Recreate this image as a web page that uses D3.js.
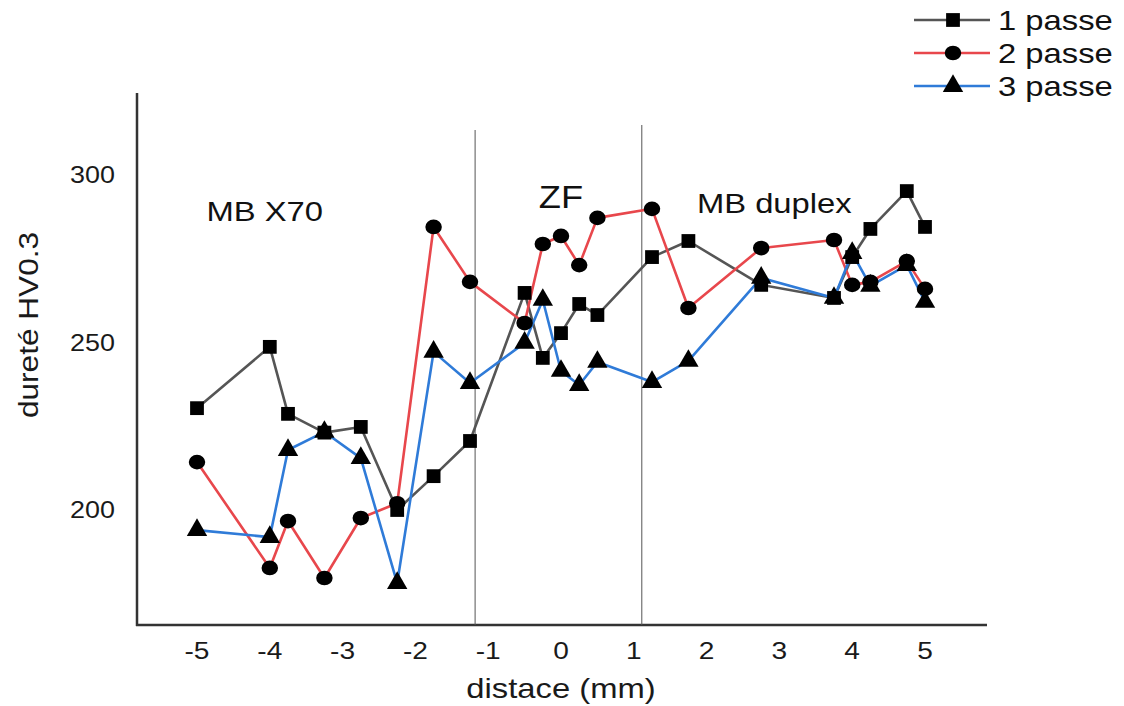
<!DOCTYPE html>
<html><head><meta charset="utf-8">
<script src="https://cdn.jsdelivr.net/npm/d3@7"></script>
<style>body{margin:0;background:#fff;} text{font-family:"Liberation Sans",Arial,sans-serif;}</style>
</head><body>
<svg id="c" width="1124" height="706"></svg>
<script>
const distances = [-5,-4,-3.75,-3.25,-2.75,-2.25,-1.75,-1.25,-0.5,-0.25,0,0.25,0.5,1.25,1.75,2.75,3.75,4,4.25,4.75,5];
const passe1 = [230.4,248.7,228.7,223.1,224.8,200,210.1,220.6,264.8,245.4,252.8,261.5,258.2,275.5,280.3,267.2,263.3,275.5,283.9,295.2,284.5];
const passe2 = [214.3,182.7,196.7,179.7,197.6,202,284.5,268.1,255.8,279.4,281.8,273.1,287.2,289.9,260.3,278.2,280.6,267.2,268.1,274.3,266];
const passe3 = [194,191.9,217.9,223.3,215.5,178.2,247.2,237.9,249.9,262.7,241.5,237.3,244.2,238.2,244.5,269.3,263.3,276.7,266.9,273.1,262.1];
const seriesNames = ["1 passe","2 passe","3 passe"];
const xTicks = [-5,-4,-3,-2,-1,0,1,2,3,4,5];
const yTicks = [200,250,300];
const zoneBounds = [-1.18,1.11];
const zoneLabels = [{t:"MB X70",x:-4.07,y:286.2},{t:"ZF",x:0.0,y:290.2},{t:"MB duplex",x:2.93,y:288.8}];

const svg = d3.select("#c");
const x = d3.scaleLinear().domain([-5,5]).range([197,925]);
const y = d3.scaleLinear().domain([200,300]).range([510,175]);
const X0 = 137, X1 = 987, Y0 = 625, Ytop = 93;
const HS = 1.17; // horizontal stretch of reference lettering

function stretch(sel){
  sel.each(function(){
    const w = this.getComputedTextLength();
    d3.select(this).attr("textLength", w*HS).attr("lengthAdjust","spacingAndGlyphs");
  });
  return sel;
}

// axes (no ticks)
svg.append("line").attr("x1",X0).attr("x2",X0).attr("y1",Ytop).attr("y2",Y0+1).attr("stroke","#333").attr("stroke-width",2.5);
svg.append("line").attr("x1",X0-1).attr("x2",X1).attr("y1",Y0).attr("y2",Y0).attr("stroke","#333").attr("stroke-width",2.5);

stretch(svg.selectAll(".xt").data(xTicks).enter().append("text")
  .attr("x",d=>x(d)).attr("y",659).attr("text-anchor","middle").attr("font-size",24).attr("fill","#1a1a1a").text(d=>d));
stretch(svg.selectAll(".yt").data(yTicks).enter().append("text")
  .attr("x",115).attr("y",d=>y(d)+8).attr("text-anchor","end").attr("font-size",23).attr("fill","#1a1a1a").text(d=>d));

stretch(svg.append("text").attr("x",561).attr("y",698).attr("text-anchor","middle").attr("font-size",28).attr("fill","#1a1a1a").text("distace (mm)"));
stretch(svg.append("text").attr("transform","translate(38,325) rotate(-90)").attr("text-anchor","middle").attr("font-size",27).attr("fill","#1a1a1a").text("dureté HV0.3"));

// zone separators
const zTop = [130,125];
zoneBounds.forEach((b,i)=>{
  svg.append("line").attr("x1",x(b)).attr("x2",x(b)).attr("y1",zTop[i]).attr("y2",Y0).attr("stroke","#555").attr("stroke-width",1);
});
zoneLabels.forEach((z,i)=>{
  stretch(svg.append("text").attr("x",x(z.x)).attr("y",y(z.y)).attr("text-anchor","middle")
    .attr("font-size",i===1?31:28).attr("fill","#111").text(z.t));
});

const colors = ["#555555","#e8474c","#2f7bd8"];
const data = [passe1,passe2,passe3];
const line = d3.line().x((d,i)=>x(distances[i])).y(d=>y(d));
const sym = [d3.symbolSquare,d3.symbolCircle,d3.symbolTriangle];
const symSize = [190,170,180];

data.forEach((vals,k)=>{
  svg.append("path").attr("d",line(vals)).attr("fill","none").attr("stroke",colors[k]).attr("stroke-width",2.6).attr("stroke-linejoin","round");
});
data.forEach((vals,k)=>{
  svg.selectAll(".m"+k).data(vals).enter().append("path")
    .attr("d",d3.symbol().type(sym[k]).size(symSize[k]))
    .attr("transform",(d,i)=>`translate(${x(distances[i])},${y(d)})${k===1?" scale(1.12,1)":""}`)
    .attr("fill","#000");
});

// legend
seriesNames.forEach((n,k)=>{
  const ly = 20 + k*33;
  svg.append("line").attr("x1",914).attr("x2",990).attr("y1",ly).attr("y2",ly).attr("stroke",colors[k]).attr("stroke-width",2.6);
  svg.append("path").attr("d",d3.symbol().type(sym[k]).size(symSize[k]))
    .attr("transform",`translate(953,${ly})${k===1?" scale(1.12,1)":""}`).attr("fill","#000");
  stretch(svg.append("text").attr("x",998).attr("y",ly+10).attr("font-size",28).attr("fill","#111").text(n));
});
</script>
</body></html>
